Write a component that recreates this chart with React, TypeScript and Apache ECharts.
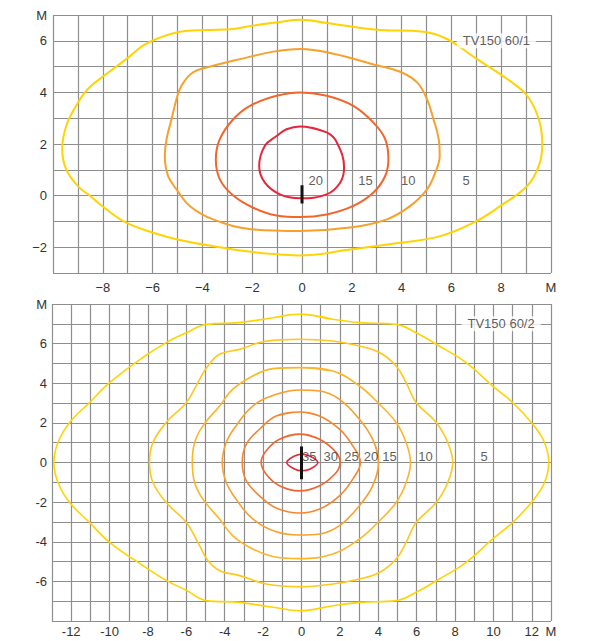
import React, { useEffect, useRef } from 'react';
import * as echarts from 'echarts';

// ---------- Chart 1: TV150 60/1 ----------
const top5: number[][] = [[-0.08,6.82],[-0.95,6.72],[-1.96,6.59],[-2.76,6.46],[-3.84,6.42],[-4.91,6.35],[-5.85,6.07],[-6.39,5.81],[-7.06,5.29],[-7.86,4.71],[-8.6,4.13],[-9.07,3.48],[-9.47,2.7],[-9.63,1.8],[-9.47,1.02],[-9.0,0.37],[-8.53,0.0],[-7.86,-0.53],[-7.06,-1.05],[-5.98,-1.44],[-4.91,-1.72],[-3.57,-1.96],[-1.96,-2.19],[-0.89,-2.28],[-0.08,-2.32],[1.93,-2.09],[3.94,-1.83],[5.55,-1.57],[6.89,-1.05],[7.97,-0.4],[9.04,0.37],[9.51,1.15],[9.65,1.99],[9.51,2.96],[9.04,3.87],[8.24,4.52],[7.03,5.29],[5.82,6.07],[4.88,6.35],[3.0,6.43],[0.99,6.69],[-0.08,6.82]];
const top10: number[][] = [[-0.08,5.68],[-1.15,5.58],[-2.49,5.29],[-3.57,5.03],[-4.37,4.78],[-4.84,4.26],[-5.04,3.74],[-5.24,2.96],[-5.44,2.19],[-5.51,1.54],[-5.38,0.76],[-5.04,0.24],[-4.51,-0.4],[-3.57,-0.92],[-1.96,-1.31],[-0.08,-1.37],[1.93,-1.24],[3.41,-0.92],[4.35,-0.4],[5.02,0.24],[5.35,0.89],[5.53,1.54],[5.49,2.19],[5.28,2.96],[5.02,3.74],[4.62,4.39],[3.94,4.8],[3.0,5.05],[1.26,5.5],[-0.08,5.68]];
const top15: number[][] = [[-0.08,4.0],[-1.02,3.87],[-2.09,3.48],[-2.76,2.96],[-3.3,2.19],[-3.46,1.41],[-3.3,0.63],[-2.76,0.0],[-1.96,-0.47],[-1.02,-0.77],[-0.08,-0.83],[0.99,-0.73],[2.06,-0.4],[2.87,0.12],[3.34,0.76],[3.47,1.41],[3.34,2.19],[2.87,2.83],[2.06,3.48],[0.99,3.87],[-0.08,4.0]];
const top20: number[][] = [[-0.08,2.68],[-0.62,2.57],[-1.02,2.31],[-1.49,1.93],[-1.72,1.15],[-1.49,0.5],[-0.89,0.05],[-0.08,-0.1],[0.99,0.05],[1.53,0.5],[1.69,1.09],[1.4,2.06],[0.99,2.45],[-0.08,2.68]];
const topLevels = ['5', '10', '15', '20'];
const topColors = ['#FFD400', '#F8A02C', '#F2662C', '#E8263B'];
const topLabels: (number | string)[][] = [[0.55,0.57,'20'],[2.55,0.57,'15'],[4.27,0.57,'10'],[6.59,0.57,'5']];
const topMarker: number[][] = [[0,0.4],[0,-0.31]];
const topTitle: (number | string)[][] = [[7.81,6,'TV150 60/1']];

// ---------- Chart 2: TV150 60/2 ----------
const bot5: number[][] = [[-0.1,7.48],[-1.49,7.31],[-3.23,7.06],[-4.96,6.97],[-6.0,6.55],[-7.05,6.05],[-8.27,5.3],[-10.0,4.03],[-11.04,3.03],[-12.08,2.02],[-12.69,1.01],[-12.9,0],[-12.69,-1.01],[-12.08,-2.02],[-11.04,-3.03],[-10.0,-4.03],[-8.27,-5.2],[-7.05,-5.95],[-6.0,-6.45],[-4.96,-6.97],[-3.23,-7.06],[-1.49,-7.31],[-0.1,-7.48],[1.63,-7.23],[3.02,-7.06],[4.93,-6.97],[5.97,-6.55],[7.02,-5.97],[8.58,-5.04],[9.96,-3.86],[11.0,-3.03],[12.05,-1.93],[12.66,-1.01],[12.88,0],[12.66,1.01],[12.05,1.93],[11.0,3.03],[9.96,3.86],[8.58,5.04],[7.02,5.97],[5.97,6.55],[4.93,6.97],[3.02,7.06],[1.63,7.23],[-0.1,7.48]];
const bot10: number[][] = [[-0.1,6.22],[-1.84,6.13],[-3.23,5.71],[-4.27,5.46],[-4.88,4.87],[-5.31,4.2],[-6.0,3.03],[-7.05,2.02],[-7.74,1.01],[-7.92,0],[-7.74,-1.01],[-7.05,-2.02],[-6.0,-3.03],[-5.31,-4.2],[-4.88,-4.95],[-4.27,-5.46],[-3.23,-5.71],[-1.84,-6.13],[-0.1,-6.27],[1.63,-6.13],[3.02,-5.88],[4.06,-5.55],[4.93,-4.87],[5.45,-4.03],[5.97,-3.03],[7.02,-2.02],[7.62,-1.01],[7.88,0],[7.62,1.01],[7.02,2.02],[5.97,3.03],[5.45,4.03],[4.93,4.87],[4.06,5.55],[3.02,5.88],[1.63,6.13],[-0.1,6.22]];
const bot15: number[][] = [[-0.1,4.79],[-1.49,4.74],[-2.54,4.37],[-3.58,3.7],[-4.27,2.85],[-5.14,1.85],[-5.57,1.01],[-5.69,0],[-5.57,-1.01],[-5.14,-1.85],[-4.27,-2.85],[-3.58,-3.7],[-2.54,-4.37],[-1.49,-4.74],[-0.1,-4.85],[1.63,-4.62],[3.02,-3.86],[3.97,-3.03],[4.93,-2.02],[5.45,-1.01],[5.68,0],[5.45,1.01],[4.93,2.02],[3.97,3.03],[3.02,3.86],[1.63,4.62],[-0.1,4.79]];
const bot20: number[][] = [[-0.1,3.66],[-1.32,3.44],[-2.54,2.85],[-3.41,1.85],[-3.92,1.01],[-4.13,0],[-3.92,-1.01],[-3.41,-1.85],[-2.54,-2.85],[-1.32,-3.5],[-0.1,-3.66],[0.94,-3.61],[1.98,-3.19],[3.02,-2.18],[3.71,-1.17],[4.01,0],[3.71,1.17],[3.02,2.18],[1.98,3.19],[0.94,3.61],[-0.1,3.66]];
const bot25: number[][] = [[-0.1,2.55],[-1.32,2.35],[-2.19,1.68],[-2.88,0.92],[-3.09,0],[-2.88,-0.92],[-2.19,-1.68],[-1.32,-2.3],[-0.1,-2.55],[0.94,-2.35],[1.98,-1.68],[2.67,-0.84],[3.07,0],[2.67,0.84],[1.98,1.68],[0.94,2.35],[-0.1,2.55]];
const bot30: number[][] = [[-0.1,1.43],[-1.15,1.17],[-1.84,0.59],[-2.1,0],[-1.84,-0.59],[-1.15,-1.17],[-0.1,-1.43],[0.94,-1.17],[1.81,-0.5],[2.01,0],[1.81,0.5],[0.94,1.17],[-0.1,1.43]];
const bot35: number[][] = [[0,0.42],[-0.36,0.33],[-0.77,0],[-0.36,-0.33],[0,-0.42],[0.42,-0.34],[0.85,0],[0.42,0.33],[0,0.42]];
const botLevels = ['5', '10', '15', '20', '25', '30', '35'];
const botColors = ['#FFD400', '#FFC81A', '#FDB628', '#F9A02D', '#F6872F', '#F1652E', '#E8263B'];
const botLabels: (number | string)[][] = [[0.4,0.28,'35'],[1.52,0.28,'30'],[2.61,0.28,'25'],[3.62,0.28,'20'],[4.58,0.28,'15'],[6.46,0.28,'10'],[9.51,0.28,'5']];
const botMarker: number[][] = [[0,0.81],[0,-0.84]];
const botTitle: (number | string)[][] = [[10.4,7,'TV150 60/2']];

const FONT = '"Liberation Sans", Arial, sans-serif';
const TXT = '#333';
const GRIDC = '#8e8e8e';

// closed loop: wrap around so the smoothing is continuous at the seam
const wrapLoop = (d: number[][]) => {
  const pts = d.slice(0, -1);
  return [pts[pts.length - 1], ...pts, pts[0], pts[1]];
};

export default function App() {
  const ref = useRef<HTMLDivElement>(null);
  useEffect(() => {
    if (!ref.current) return;
    const chart = echarts.init(ref.current, undefined, { renderer: 'svg' });
    const minus = (v: number) => (v < 0 ? '\u2212' + Math.abs(v) : String(v));

    const contour = (data: number[][], color: string, width: number, idx: number, name: string) => ({
      type: 'line', name, xAxisIndex: idx, yAxisIndex: idx, data: wrapLoop(data), smooth: 0.4,
      symbol: 'none', showSymbol: false, lineStyle: { color, width }, silent: true, z: 3,
    });
    const marker = (data: number[][], idx: number) => ({
      type: 'line', xAxisIndex: idx, yAxisIndex: idx, data, symbol: 'none',
      lineStyle: { color: '#111', width: 3, cap: 'butt' }, z: 5, silent: true,
    });
    const labels = (data: (number | string)[][], idx: number) => ({
      type: 'scatter', xAxisIndex: idx, yAxisIndex: idx, data, symbolSize: 1,
      itemStyle: { color: 'rgba(0,0,0,0)' }, z: 6, silent: true,
      label: { show: true, position: 'inside', formatter: (p: any) => p.value[2], color: TXT, fontSize: 13, fontFamily: FONT },
    });
    const title = (data: (number | string)[][], idx: number) => ({
      type: 'scatter', xAxisIndex: idx, yAxisIndex: idx, data, symbolSize: 1,
      itemStyle: { color: 'rgba(0,0,0,0)' }, z: 7, silent: true,
      label: { show: true, position: 'inside', formatter: (p: any) => p.value[2], color: TXT, fontSize: 13, fontFamily: FONT, backgroundColor: '#fff', padding: [1, 6, 1, 6] },
    });

    const axisBase = (min: number, max: number, gi: number, margin: number, fmt: (v: number) => string) => ({
      type: 'value', gridIndex: gi, min, max, interval: 1,
      axisLine: { show: false }, axisTick: { show: false },
      splitLine: { show: true, lineStyle: { color: GRIDC, width: 1.2 } },
      axisLabel: { show: true, margin, color: TXT, fontSize: 13, fontFamily: FONT, showMinLabel: true, showMaxLabel: true, formatter: fmt },
    });

    const series: any[] = [];
    [top5, top10, top15, top20].forEach((d, i) => series.push(contour(d, topColors[i], 2, 0, 'top' + topLevels[i])));
    series.push(marker(topMarker, 0), labels(topLabels, 0), title(topTitle, 0));
    [bot5, bot10, bot15, bot20, bot25, bot30, bot35].forEach((d, i) => series.push(contour(d, botColors[i], 1.6, 1, 'bot' + botLevels[i])));
    series.push(marker(botMarker, 1), labels(botLabels, 1), title(botTitle, 1));

    chart.setOption({
      animation: false,
      backgroundColor: '#fff',
      grid: [
        { left: 53, top: 15, width: 498, height: 258 },
        { left: 52, top: 304, width: 499, height: 317 },
      ],
      xAxis: [
        axisBase(-10, 10, 0, 8, (v) => (v === 10 ? 'M' : v % 2 === 0 && v !== -10 ? minus(v) : '')),
        axisBase(-13, 13, 1, 4, (v) => (v === 13 ? 'M' : v % 2 === 0 ? String(v) : '')),
      ],
      yAxis: [
        axisBase(-3, 7, 0, 6, (v) => (v === 7 ? 'M' : v % 2 === 0 ? minus(v) : '')),
        axisBase(-8, 8, 1, 5, (v) => (v === 8 ? 'M' : v % 2 === 0 && v !== -8 ? String(v) : '')),
      ],
      series,
    });
    return () => chart.dispose();
  }, []);
  return <div ref={ref} style={{ position: 'absolute', left: 0, top: 0, width: 602, height: 641 }} />;
}
